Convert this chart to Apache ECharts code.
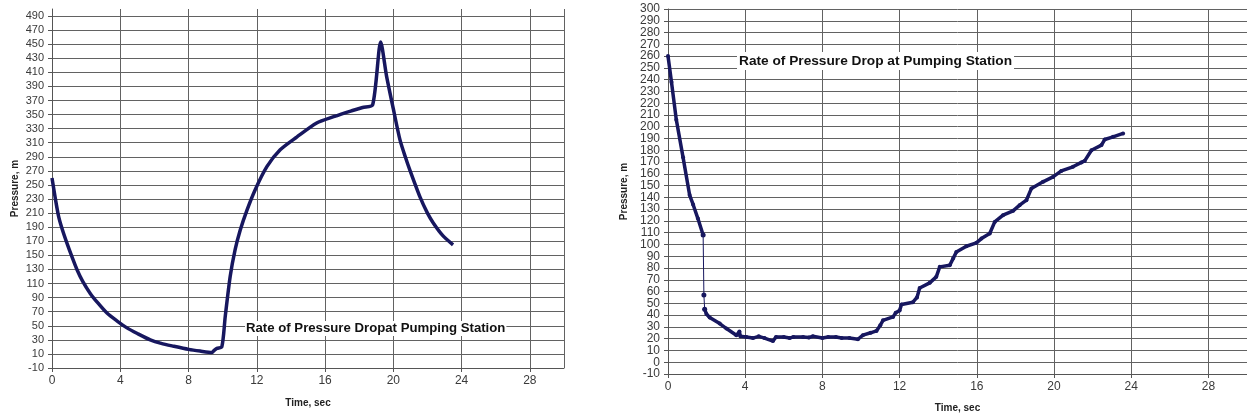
<!DOCTYPE html>
<html>
<head>
<meta charset="utf-8">
<script src="https://cdn.jsdelivr.net/npm/echarts@6/dist/echarts.min.js"></script>
<style>
	html, body { margin: 0; padding: 0; background: #fff; }
	#chart { width: 1247px; height: 419px; }
</style>
</head>
<body>
<div id="chart"></div>
<script>
// left chart: pressure at pumping station, time (sec) / pressure (m)
var leftTime = [0, 0.2, 0.39, 0.6, 0.88, 1.2, 1.46, 1.8, 2.24, 2.7, 3.22, 3.8, 4.39, 5, 5.76, 6.4, 7.12, 8, 8.68, 9.37,
	9.5, 9.66, 9.95, 10.15, 10.44, 10.73, 11.03, 11.42, 11.9, 12.59, 13.37, 14.34, 15.51, 16.5, 17.5, 18.2, 18.79,
	19.26, 19.6, 20, 20.39, 20.7, 20.97, 21.56, 22, 22.34, 22.9, 23.5];
var leftPressure = [260, 230, 205, 187, 167, 146, 130, 113, 96, 82, 68, 57, 47, 39, 30, 25, 21, 16.5, 14, 12,
	15, 18, 20, 63, 120, 158, 186, 214, 243, 276, 300, 318, 338, 347, 355, 360, 364,
	453, 405, 358, 314, 290, 271, 233, 210, 196, 178, 165];

// right chart: first drop (thick), gap connector (thin), rest (thick)
var rightTimeA = [0, 0.18, 0.43, 0.78, 1.12, 1.3, 1.55, 1.82];
var rightPressureA = [260, 238, 206, 174, 142, 134, 122, 108];
var rightTimeGap = [1.82, 1.86, 1.9];
var rightPressureGap = [108, 57, 45];
var rightTimeB = [1.9, 1.99, 2.16, 2.68, 3.03, 3.54, 3.7, 3.75, 4.06, 4.4, 4.7, 5.0, 5.44, 5.6, 6.0, 6.3, 6.5, 7.0,
	7.3, 7.5, 8.0, 8.3, 8.7, 9.0, 9.4, 9.84, 10.1, 10.5, 10.8, 11.0, 11.14, 11.66, 11.8, 12.0, 12.1, 12.69, 12.9,
	13.04, 13.56, 13.9, 14.08, 14.6, 14.77, 14.94, 15.46, 15.98, 16.24, 16.67, 16.93, 17.36, 17.88, 18.22, 18.57,
	18.83, 19.43, 19.95, 20.38, 20.98, 21.42, 21.59, 21.94, 22.46, 22.63, 23.06, 23.58];
var rightPressureB = [45, 41, 38, 32.8, 28.6, 22.9, 26, 22, 21.5, 20.5, 22, 20.5, 18, 21.5, 21.5, 20.5, 21.5, 21.5,
	21, 22, 20.5, 21.5, 21.5, 20.5, 20.5, 19.5, 23, 25, 26.6, 31.4, 35.6, 38.5, 42, 44, 49, 51, 55,
	63, 67.4, 72.5, 81, 82.4, 88, 93.7, 98.5, 101.4, 105, 109.3, 119.2, 124.9, 128.6, 133.4, 137.6,
	147.6, 153.2, 157.4, 162.5, 166, 169.7, 171, 180, 184.4, 189.2, 191.4, 194.3];

var leftYTicks = [];
for (var v = -10; v <= 490; v += 20) leftYTicks.push(v);
// right axis labels every 10, split into two interleaved sets so none get hidden
var rightYTicksOdd = [];
for (var v = -10; v <= 290; v += 20) rightYTicksOdd.push(v);
var rightYTicksEven = [];
for (var v = 0; v <= 300; v += 20) rightYTicksEven.push(v);

var titleLeft = 'Rate of Pressure Dropat Pumping Station';
var titleRight = 'Rate of Pressure Drop at Pumping Station';

function pairs(xs, ys) {
	var out = [];
	for (var i = 0; i < xs.length; i++) out.push([xs[i], ys[i]]);
	return out;
}

var font = "'Liberation Sans', Arial, sans-serif";
var lineColor = '#17175f';
var gridColor = '#626262';
var labelColor = '#3a3a3a';

function xAxisOf(gridIndex, gap) {
	return {
		gridIndex: gridIndex,
		type: 'value',
		min: 0,
		max: 30,
		interval: 4,
		name: 'Time, sec',
		nameLocation: 'middle',
		nameGap: gap,
		nameTextStyle: { fontFamily: font, fontWeight: 'bold', fontSize: 10, color: '#222' },
		axisLine: { show: true, onZero: false, lineStyle: { color: '#555', width: 1 } },
		axisTick: { show: true, length: 4, lineStyle: { color: '#555' } },
		axisLabel: { showMaxLabel: false, margin: 7, fontFamily: font, fontSize: 12, color: labelColor },
		splitLine: { show: true, lineStyle: { color: gridColor, width: 1 } }
	};
}

function rightYAxis(ticks, withName) {
	return {
		gridIndex: 1,
		type: 'value',
		position: 'left',
		offset: 0,
		min: -10,
		max: 300,
		name: withName ? 'Pressure, m' : '',
		nameLocation: 'middle',
		nameGap: 39,
		nameTextStyle: { fontFamily: font, fontWeight: 'bold', fontSize: 10, color: '#222' },
		axisLine: { show: withName, lineStyle: { color: '#555' } },
		axisTick: { show: true, length: 4, customValues: ticks, lineStyle: { color: '#555' } },
		axisLabel: { customValues: ticks, margin: 8, fontFamily: font, fontSize: 12, color: labelColor },
		splitLine: { show: true, lineStyle: { color: gridColor, width: 1 } }
	};
}

var chart = echarts.init(document.getElementById('chart'));
var option = {
	backgroundColor: '#fff',
	animation: false,
	grid: [
		{ left: 52, top: 9, width: 512, height: 359, containLabel: false },
		{ left: 668, top: 9, width: 579, height: 365, containLabel: false }
	],
	xAxis: [xAxisOf(0, 30), xAxisOf(1, 29)],
	yAxis: [{
		gridIndex: 0,
		type: 'value',
		min: -10,
		max: 500,
		name: 'Pressure, m',
		nameLocation: 'middle',
		nameGap: 32,
		nameTextStyle: { fontFamily: font, fontWeight: 'bold', fontSize: 10, color: '#222' },
		axisLine: { show: true, lineStyle: { color: '#555' } },
		axisTick: { show: true, length: 4, customValues: leftYTicks, lineStyle: { color: '#555' } },
		axisLabel: { customValues: leftYTicks, margin: 8, fontFamily: font, fontSize: 11, color: labelColor },
		splitLine: { show: true, lineStyle: { color: gridColor, width: 1 } }
	}, rightYAxis(rightYTicksOdd, true), rightYAxis(rightYTicksEven, false)],
	series: [{
		type: 'line',
		xAxisIndex: 0,
		yAxisIndex: 0,
		data: pairs(leftTime, leftPressure),
		showSymbol: false,
		smooth: 0.25,
		lineStyle: { color: lineColor, width: 3.5 }
	}, {
		type: 'line',
		xAxisIndex: 1,
		yAxisIndex: 1,
		data: pairs(rightTimeA, rightPressureA),
		symbol: 'circle',
		symbolSize: 4,
		itemStyle: { color: lineColor },
		lineStyle: { color: lineColor, width: 3.5 }
	}, {
		type: 'line',
		xAxisIndex: 1,
		yAxisIndex: 1,
		data: pairs(rightTimeGap, rightPressureGap),
		symbol: 'circle',
		symbolSize: 5,
		itemStyle: { color: lineColor },
		lineStyle: { color: lineColor, width: 1 }
	}, {
		type: 'line',
		xAxisIndex: 1,
		yAxisIndex: 1,
		data: pairs(rightTimeB, rightPressureB),
		symbol: 'circle',
		symbolSize: 4,
		itemStyle: { color: lineColor },
		lineStyle: { color: lineColor, width: 3.5 }
	}],
	graphic: [{
		type: 'text',
		z: 100,
		left: 245,
		top: 321,
		style: {
			text: titleLeft,
			fontFamily: font,
			fontWeight: 'bold',
			fontSize: 13.2,
			fill: '#111',
			backgroundColor: '#fff',
			padding: [1, 1]
		}
	}, {
		type: 'text',
		z: 100,
		left: 737,
		top: 52,
		style: {
			text: titleRight,
			fontFamily: font,
			fontWeight: 'bold',
			fontSize: 13.7,
			fill: '#111',
			backgroundColor: '#fff',
			padding: [2, 2]
		}
	}]
};
chart.setOption(option);
</script>
</body>
</html>
